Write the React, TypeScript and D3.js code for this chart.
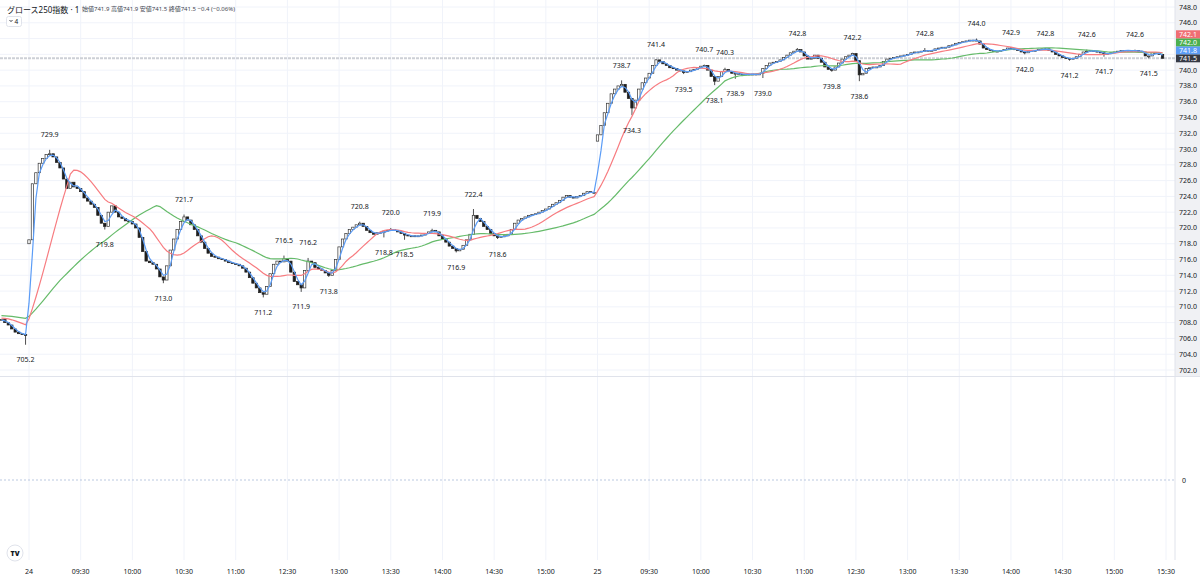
import * as d3 from "d3";

// 2-minute closes
const prevDayCloses = [708.4, 708.0, 707.7, 707.2, 706.8, 706.6, 706.5, 706.4];

const day1Open = 718.0;
const day1Closes = [
  718.5, 725.6, 727.0, 728.2, 728.8, 729.3, 729.4, 729.0, 728.3, 727.6, 726.2, 725.0, 725.8, 725.2, 725.0,
  724.6, 723.8, 723.4, 723.0, 722.6, 721.6, 720.6, 720.2, 722.0, 722.8, 722.0, 721.4, 721.2, 720.9, 720.8,
  720.5, 720.0, 718.8, 717.0, 715.8, 715.6, 715.4, 714.8, 713.8, 713.4, 715.2, 717.2, 718.6, 719.8, 720.8,
  721.4, 721.0, 720.4, 719.8, 719.0, 718.2, 717.4, 716.8, 716.4, 716.3, 716.1, 716.0, 715.8, 715.6, 715.5,
  715.4, 715.2, 714.9, 714.4, 713.7, 713.0, 712.4, 711.8, 711.6, 712.6, 714.2, 715.4, 715.8, 715.7, 716.1,
  715.8, 714.4, 713.2, 712.8, 712.4, 714.6, 715.8, 715.6, 715.0, 714.8, 714.6, 714.3, 714.0, 714.6, 716.0,
  717.6, 718.6, 719.3, 719.8, 720.1, 720.4, 720.6, 720.2, 719.7, 719.4, 719.2, 719.4, 719.4, 719.6, 719.7,
  719.8, 719.7, 719.5, 719.3, 719.1, 719.0, 719.0, 718.9, 719.0, 719.1, 719.3, 719.5, 719.7, 719.5, 719.0,
  718.6, 718.2, 717.7, 717.4, 717.1, 717.3, 717.8, 718.5, 719.2, 721.6, 721.2, 720.8, 720.2, 719.8, 719.3,
  719.0, 718.8, 718.9, 719.0, 719.2, 719.8, 720.6, 721.0, 721.2, 721.4, 721.6, 721.7, 721.8, 722.0, 722.2,
  722.4, 722.7, 723.0, 723.2, 723.5, 723.9, 724.1, 723.9, 723.8, 724.0, 724.1, 724.4, 724.6, 724.5, 724.5,
];

const day2Open = 731.0;
const day2Closes = [
  731.8, 733.0, 734.6, 735.8, 737.0, 737.6, 738.0, 738.2, 737.2, 736.4, 735.2, 736.2, 737.6, 738.4, 739.0,
  739.6, 740.6, 741.3, 741.1, 740.8, 740.6, 740.3, 740.2, 740.0, 739.9, 739.7, 739.8, 740.0, 740.1, 740.3,
  740.5, 740.6, 740.0, 739.2, 738.6, 739.2, 739.8, 740.1, 739.8, 739.6, 739.6, 739.5, 739.4, 739.5, 739.5,
  739.5, 739.4, 739.6, 740.2, 740.6, 740.9, 741.0, 741.1, 741.3, 741.6, 741.9, 742.2, 742.4, 742.6, 742.3,
  741.8, 741.4, 741.5, 741.9, 741.5, 741.0, 740.4, 740.1, 740.0, 740.4, 740.9, 741.4, 741.7, 741.9, 742.1,
  741.2, 739.4, 739.6, 740.2, 740.3, 740.4, 740.4, 740.6, 741.1, 741.4, 741.5, 741.6, 741.7, 741.8, 741.9,
  742.0, 742.2, 742.3, 742.3, 742.4, 742.5, 742.5, 742.5, 742.7, 742.8, 742.9, 742.9, 743.1, 743.2, 743.4,
  743.5, 743.6, 743.7, 743.8, 743.8, 743.7, 743.3, 742.8, 742.6, 742.5, 742.4, 742.4, 742.5, 742.6, 742.8,
  742.7, 742.6, 742.5, 742.3, 742.2, 742.4, 742.5, 742.5, 742.6, 742.7, 742.7, 742.5, 742.3, 742.0, 741.8,
  741.6, 741.5, 741.4, 741.5, 741.7, 742.0, 742.3, 742.4, 742.5, 742.4, 742.3, 742.2, 742.0, 742.1, 742.2,
  742.3, 742.4, 742.5, 742.5, 742.5, 742.4, 742.5, 742.4, 742.3, 741.8, 741.8, 742.2, 742.2, 742.0, 741.5,
];

// high / low markers: session minute (day 2 starts at 330), value, H or L
const pivots: [number, number, "H" | "L"][] = [
  [-2, 705.2, "L"], [12, 729.9, "H"], [44, 719.8, "L"], [78, 713.0, "L"], [90, 721.7, "H"],
  [136, 711.2, "L"], [148, 716.5, "H"], [158, 711.9, "L"], [162, 716.2, "H"], [174, 713.8, "L"],
  [192, 720.8, "H"], [206, 718.8, "L"], [210, 720.0, "H"], [218, 718.5, "L"], [234, 719.9, "H"],
  [248, 716.9, "L"], [258, 722.4, "H"], [272, 718.6, "L"],
  [344, 738.7, "H"], [350, 734.3, "L"], [364, 741.4, "H"], [380, 739.5, "L"], [392, 740.7, "H"],
  [398, 738.1, "L"], [404, 740.3, "H"], [410, 738.9, "L"], [426, 739.0, "L"], [446, 742.8, "H"],
  [466, 739.8, "L"], [478, 742.2, "H"], [482, 738.6, "L"], [520, 742.8, "H"], [550, 744.0, "H"],
  [570, 742.9, "H"], [578, 742.0, "L"], [590, 742.8, "H"], [604, 741.2, "L"], [614, 742.6, "H"],
  [624, 741.7, "L"], [642, 742.6, "H"], [650, 741.5, "L"],
];

const maPeriods = [5, 25, 75]; // minutes
const maColors = ["#5b9cf6", "#f77c80", "#66bb6a"];
// average of the bars before the left edge, for each MA
const maSeeds = [708.3, 708.6, 708.9];

// last values shown on the price scale
const scaleTags = [
  { text: "742.1", v: 742.1, color: "#f06e73" },
  { text: "742.0", v: 742.0, color: "#4caf50" },
  { text: "741.8", v: 741.8, color: "#5b9cf6" },
  { text: "741.5", v: 741.5, color: "#363a45" },
];

const timeTicks: [number, string][] = [
  [0, "24"], [30, "09:30"], [60, "10:00"], [90, "10:30"], [120, "11:00"], [150, "12:30"],
  [180, "13:00"], [210, "13:30"], [240, "14:00"], [270, "14:30"], [300, "15:00"],
  [330, "25"], [360, "09:30"], [390, "10:00"], [420, "10:30"], [450, "11:00"], [480, "12:30"],
  [510, "13:00"], [540, "13:30"], [570, "14:00"], [600, "14:30"], [630, "15:00"], [660, "15:30"],
];

const priceTicks = d3.range(702, 748.01, 2);

const BAR_MIN = 2;
const lastPrice = 741.5;

type Bar = { s: number; o: number; c: number };

function buildBars(): Bar[] {
  const out: Bar[] = [];
  prevDayCloses.forEach((c, i) => {
    const o = i === 0 ? c : prevDayCloses[i - 1];
    out.push({ s: -prevDayCloses.length * BAR_MIN + i * BAR_MIN, o, c });
  });
  day1Closes.forEach((c, i) => {
    const o = i === 0 ? day1Open : day1Closes[i - 1];
    out.push({ s: i * BAR_MIN, o, c });
  });
  day2Closes.forEach((c, i) => {
    const o = i === 0 ? day2Open : day2Closes[i - 1];
    out.push({ s: 330 + i * BAR_MIN, o, c });
  });
  return out;
}

// simple moving average; bars before the chart start count as `seed`
function sma(vals: number[], n: number, seed: number) {
  return vals.map((_, i) => {
    const from = Math.max(0, i - n + 1);
    const missing = n - (i - from + 1);
    return (d3.sum(vals.slice(from, i + 1)) + missing * seed) / n;
  });
}

const FONT = "'Noto Sans', 'Noto Sans CJK JP', sans-serif";

const App = () => {
  const width = 1200;
  const height = 579;
  const plotRight = 1175;
  const mainBottom = 376;
  const lowerBottom = 560;

  const x = d3.scaleLinear().domain([0, 660]).range([29, 1166]);
  const y = d3.scaleLinear().domain([702, 748]).range([370, 7]);

  const bars = buildBars();
  const closes = bars.map((b) => b.c);
  const mas = maPeriods.map((p, i) => sma(closes, Math.round(p / BAR_MIN), maSeeds[i]));

  const lineBuilder = d3
    .line<number>()
    .x((_, i) => x(bars[i].s))
    .y((d) => y(d));

  const pivotMap = new Map(pivots.map((p) => [p[0], p]));
  const bw = 2.4;

  // stack the scale tags upward from the lowest one
  const tagH = 8;
  const sortedTags = [...scaleTags].sort((a, b) => a.v - b.v);
  let prevY = Infinity;
  const tagPos = sortedTags.map((t) => {
    const yy = Math.min(y(t.v), prevY - tagH);
    prevY = yy;
    return { ...t, y: yy };
  });
  const tagTop = d3.min(tagPos, (t) => t.y)! - tagH / 2;
  const tagBottom = d3.max(tagPos, (t) => t.y)! + tagH / 2;
  const visibleTicks = priceTicks.filter((p) => y(p) + 3 < tagTop || y(p) - 3 > tagBottom);

  return (
    <svg
      width={width}
      height={height}
      style={{ position: "absolute", left: 0, top: 0, background: "#fff" }}
      fontFamily={FONT}
    >
      {/* grid */}
      <g stroke="#f0f3fa" strokeWidth={1}>
        {timeTicks.map(([s]) => (
          <line key={"v" + s} x1={x(s)} x2={x(s)} y1={0} y2={lowerBottom} />
        ))}
        {priceTicks.map((p) => (
          <line key={"h" + p} x1={0} x2={plotRight} y1={y(p)} y2={y(p)} />
        ))}
      </g>

      {/* price scale background */}
      <rect x={plotRight} y={0} width={width - plotRight} height={mainBottom} fill="#f0f1f4" />
      <line x1={plotRight} x2={plotRight} y1={0} y2={lowerBottom} stroke="#e0e3eb" />
      <line x1={0} x2={width} y1={mainBottom + 0.5} y2={mainBottom + 0.5} stroke="#e0e3eb" />

      {/* last price line */}
      <line
        x1={0}
        x2={plotRight}
        y1={y(lastPrice)}
        y2={y(lastPrice)}
        stroke="#cdd0d6"
        strokeWidth={2}
        strokeDasharray="3 1"
      />

      {/* candles */}
      <g>
        {bars.map((b, i) => {
          const up = b.c >= b.o;
          const top = y(Math.max(b.o, b.c));
          const bot = y(Math.min(b.o, b.c));
          const cx = x(b.s);
          const pv = pivotMap.get(b.s);
          return (
            <g key={i}>
              {pv && (
                <line
                  x1={cx}
                  x2={cx}
                  y1={y(pv[1])}
                  y2={pv[2] === "H" ? top : bot}
                  stroke="#222"
                  strokeWidth={0.8}
                />
              )}
              <rect
                x={cx - bw / 2}
                y={top}
                width={bw}
                height={Math.max(0.9, bot - top)}
                fill={up ? "#fff" : "#1e1e1e"}
                stroke={up ? "#333" : "#1e1e1e"}
                strokeWidth={0.7}
              />
            </g>
          );
        })}
      </g>

      {/* moving averages */}
      {mas
        .map((m, i) => (
          <path
            key={"ma" + i}
            d={lineBuilder(m) ?? undefined}
            fill="none"
            stroke={maColors[i]}
            strokeWidth={1.2}
          />
        ))
        .reverse()}

      {/* high / low labels */}
      <g fontSize={7} fill="#131722" textAnchor="middle">
        {pivots.map(([s, v, k], i) => (
          <text key={i} x={x(s)} y={y(v) + (k === "H" ? -15 : 15)} dominantBaseline="central">
            {v.toFixed(1)}
          </text>
        ))}
      </g>

      {/* price scale labels */}
      <g fontSize={7} fill="#131722" textAnchor="middle">
        {visibleTicks.map((p) => (
          <text key={p} x={1188} y={y(p)} dominantBaseline="central">
            {p.toFixed(1)}
          </text>
        ))}
      </g>
      {tagPos.map((t) => (
        <g key={t.text + t.color}>
          <rect
            x={plotRight + 1}
            y={t.y - tagH / 2}
            width={width - plotRight - 1}
            height={tagH}
            fill={t.color}
          />
          <text x={1188} y={t.y} fontSize={7} fill="#fff" textAnchor="middle" dominantBaseline="central">
            {t.text}
          </text>
        </g>
      ))}

      {/* lower pane zero line */}
      <line
        x1={0}
        x2={plotRight}
        y1={480}
        y2={480}
        stroke="#a9bbd8"
        strokeDasharray="2 2"
        strokeWidth={0.8}
      />
      <text x={1182} y={480} fontSize={7} fill="#131722" dominantBaseline="central">
        0
      </text>

      {/* time axis */}
      <g fontSize={7} fill="#131722" textAnchor="middle">
        {timeTicks.map(([s, l]) => (
          <text key={"t" + s} x={x(s)} y={571} dominantBaseline="central">
            {l}
          </text>
        ))}
      </g>

      {/* header */}
      <text x={7} y={9} fontSize={8} fill="#131722" dominantBaseline="central">
        グロース250指数 · 1
      </text>
      <text x={82} y={9} fontSize={6} fill="#434651" dominantBaseline="central">
        始値741.9 高値741.9 安値741.5 終値741.5 −0.4 (−0.06%)
      </text>
      <rect x={6.5} y={16.5} width={15} height={10} rx={2} fill="#fff" stroke="#e0e3eb" />
      <path d="M9.5 20 L11 21.6 L12.5 20" fill="none" stroke="#131722" strokeWidth={0.8} />
      <text x={14.5} y={21.5} fontSize={6.5} fill="#131722" dominantBaseline="central">
        4
      </text>

      {/* logo */}
      <circle cx={15} cy={553} r={8} fill="#fff" stroke="#e0e3eb" />
      <text
        x={15}
        y={553.5}
        fontSize={7}
        fontWeight={900}
        fill="#131722"
        textAnchor="middle"
        dominantBaseline="central"
      >
        TV
      </text>
    </svg>
  );
};

export default App;
